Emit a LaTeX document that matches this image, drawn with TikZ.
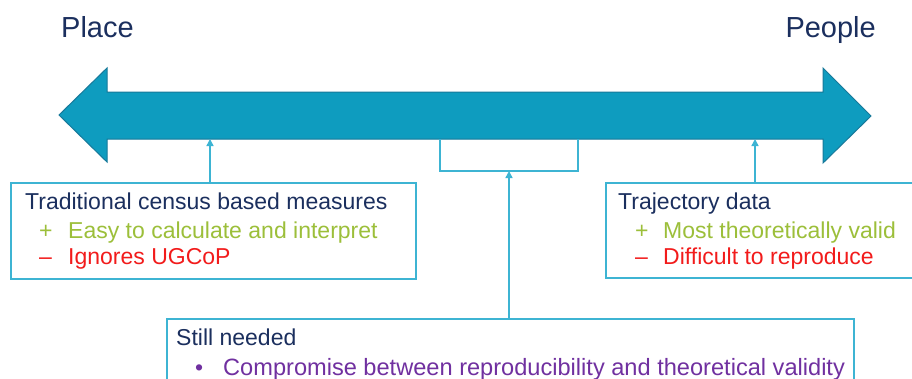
\documentclass[tikz,border=0pt]{standalone}
\usepackage{fontspec}
\setmainfont{Liberation Sans}
\usetikzlibrary{arrows.meta}

\definecolor{inknavy}{HTML}{1B2F5E}
\definecolor{barfill}{HTML}{0E9CBF}
\definecolor{baredge}{HTML}{17799A}
\definecolor{linkcol}{HTML}{3DB4D3}
\definecolor{procol}{HTML}{9CBF3A}
\definecolor{concol}{HTML}{F21B1B}
\definecolor{needcol}{HTML}{7030A0}

\tikzset{
  title/.style={inner sep=0pt, anchor=base west, text=inknavy,
    font=\fontsize{29}{34}\selectfont},
  txt/.style={inner sep=0pt, anchor=base west,
    font=\fontsize{23}{28}\selectfont},
  txtwide/.style={txt, font=\fontsize{23.6}{28}\selectfont},
  panel/.style={draw=linkcol, line width=1.5pt, fill=white, inner sep=0pt,
    anchor=north west},
  conn/.style={draw=linkcol, line width=1.4pt},
  tip/.style={-{Triangle[width=7pt,length=7pt]}},
}

\begin{document}
\begin{tikzpicture}[x=1pt, y=-1pt]
  \clip (0,0) rectangle (912,378);
  \fill[white] (0,0) rectangle (912,378);

  % axis labels
  \node[title] (place) at (61,37) {Place};
  \node[title, anchor=base east] (people) at (876,37) {People};

  % double-headed bar
  \filldraw[fill=barfill, draw=baredge, line width=1pt, line join=miter]
    (59,115) -- (107,68) -- (107,92) -- (823,92) -- (823,68) -- (871,116)
    -- (823,163) -- (823,139) -- (107,139) -- (107,162) -- cycle;

  % attachment points on the underside of the bar
  \coordinate (leftpt) at (210,139);
  \coordinate (rightpt) at (755,139);
  \coordinate (brL) at (440,139);
  \coordinate (brR) at (578,139);
  \coordinate (brM) at (509,171);

  % panels
  \node[panel, minimum width=405pt, minimum height=96pt] (census) at (10,182) {};
  \node[panel, minimum width=330pt, minimum height=95pt] (traj) at (605,182) {};
  \node[panel, minimum width=687pt, minimum height=90pt] (needed) at (166,318) {};

  % connectors
  \draw[conn, tip] (census.north -| leftpt) -- (leftpt);
  \draw[conn, tip] (traj.north -| rightpt) -- (rightpt);
  \draw[conn] (brL) |- (brM) -| (brR);
  \draw[conn, tip] (needed.north -| brM) -- (brM);

  % census panel text
  \node[txt, text=inknavy] (censusT) at (25,209) {Traditional census based measures};
  \node[txt, text=procol] (censusPs) at (39,238) {+};
  \node[txt, text=procol] (censusP) at (68,238) {Easy to calculate and interpret};
  \node[txt, text=concol] (censusCs) at (39,264) {–};
  \node[txt, text=concol] (censusC) at (68,264) {Ignores UGCoP};

  % trajectory panel text
  \node[txt, text=inknavy] (trajT) at (618,209) {Trajectory data};
  \node[txt, text=procol] (trajPs) at (635,238) {+};
  \node[txt, text=procol] (trajP) at (663,238) {Most theoretically valid};
  \node[txt, text=concol] (trajCs) at (635,264) {–};
  \node[txt, text=concol] (trajC) at (663,264) {Difficult to reproduce};

  % still-needed panel text
  \node[txt, text=inknavy] (needT) at (176,345) {Still needed};
  \node[txt, text=needcol] (needB) at (195,375) {•};
  \node[txtwide, text=needcol] (needI) at (223,375) {Compromise between reproducibility and theoretical validity};
\end{tikzpicture}
\end{document}
